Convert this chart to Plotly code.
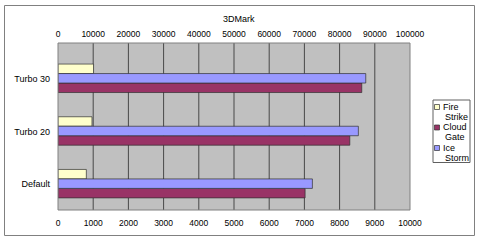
import plotly.graph_objects as go

categories = ["Default", "Turbo 20", "Turbo 30"]
fire_strike = [805, 965, 1010]
cloud_gate = [7020, 8290, 8630]
ice_storm = [72270, 85330, 87430]
series_names = ["Fire Strike", "Cloud Gate", "Ice Storm"]
series_colors = ["#FFFFCC", "#993366", "#9999FF"]
bottom_ticks = list(range(0, 10001, 1000))
top_ticks = list(range(0, 100001, 10000))
title_text = "3DMark"

W, H = 480, 245
PL, PR, PT, PB = 58, 410, 43, 210  # plot area in pixels
FONT = "Liberation Sans, Arial, sans-serif"
CLEAR = "rgba(0,0,0,0)"


def px(x):
    return (x - PL) / (PR - PL)


def py(y):
    return (PB - y) / (PB - PT)


line_style = dict(color="#303030", width=0.7)
fig = go.Figure()
fig.add_trace(go.Bar(y=categories, x=fire_strike, orientation="h", name=series_names[0],
                     xaxis="x", yaxis="y", offset=0.10, width=0.18,
                     marker=dict(color=series_colors[0], line=line_style)))
fig.add_trace(go.Bar(y=categories, x=ice_storm, orientation="h", name=series_names[2],
                     xaxis="x2", yaxis="y", offset=-0.08, width=0.18,
                     marker=dict(color=series_colors[2], line=line_style)))
fig.add_trace(go.Bar(y=categories, x=cloud_gate, orientation="h", name=series_names[1],
                     xaxis="x", yaxis="y", offset=-0.26, width=0.18,
                     marker=dict(color=series_colors[1], line=line_style)))

tickfont = dict(family=FONT, size=8.5, color="#000000")
fig.update_layout(
    width=W, height=H,
    margin=dict(l=PL, r=W - PR, t=PT, b=H - PB, pad=0),
    paper_bgcolor="#FFFFFF", plot_bgcolor="#C0C0C0",
    showlegend=False, barmode="overlay",
    xaxis=dict(range=[0, 10000], tickvals=bottom_ticks, tickformat="d",
               showgrid=False, zeroline=False, ticks="", ticklen=0, tickcolor=CLEAR,
               gridcolor=CLEAR, tickfont=tickfont, ticklabelstandoff=6,
               fixedrange=True),
    xaxis2=dict(range=[0, 100000], tickvals=top_ticks, tickformat="d", overlaying="x",
                anchor="y", side="top", showgrid=False, gridcolor=CLEAR,
                zeroline=False, showline=False, ticks="", ticklen=0, tickcolor=CLEAR,
                tickfont=tickfont, ticklabelstandoff=3, fixedrange=True),
    yaxis=dict(categoryorder="array", categoryarray=categories, range=[-0.49, 2.68],
               showgrid=False, zeroline=False, ticks="",
               tickfont=dict(family=FONT, size=9, color="#000000"), ticklabelstandoff=7),
)

# vertical gridlines at the bottom-axis tick values, drawn below the bars
shapes = [
    dict(type="line", xref="x", yref="paper", x0=t, x1=t, y0=0, y1=1,
         line=dict(color="#484848", width=1), layer="below")
    for t in bottom_ticks[1:-1]
]
shapes += [
    dict(type="rect", xref="paper", yref="paper", x0=0, x1=1, y0=0, y1=1,
         line=dict(color="#808080", width=1), layer="above"),
    dict(type="rect", xref="paper", yref="paper", x0=px(4.5), x1=px(474.5),
         y0=py(235.5), y1=py(5.5), line=dict(color="#808080", width=1)),
    dict(type="rect", xref="paper", yref="paper", x0=px(433), x1=px(470),
         y0=py(162.5), y1=py(100), line=dict(color="#606060", width=1),
         fillcolor="#FFFFFF"),
]
annotations = [
    dict(text=title_text, xref="paper", yref="paper", x=px(239), y=py(18.5),
         xanchor="center", yanchor="middle", showarrow=False,
         font=dict(family=FONT, size=9, color="#000000")),
]
legend_centers = [107, 127.5, 148]
for name, col, cy in zip(series_names, series_colors, legend_centers):
    shapes.append(dict(type="rect", xref="paper", yref="paper",
                       x0=px(434.5), x1=px(439.5), y0=py(cy + 2.5), y1=py(cy - 2.5),
                       fillcolor=col, line=dict(color="#303030", width=0.7)))
    words = name.split(" ")
    for i, w in enumerate(words):
        annotations.append(dict(text=w, xref="paper", yref="paper",
                                x=px(440.5 + 2 * i), y=py(cy + 9.5 * i),
                                xanchor="left", yanchor="middle", showarrow=False,
                                font=dict(family=FONT, size=9, color="#000000")))
fig.update_layout(shapes=shapes, annotations=annotations)
fig.write_html("out.html")
